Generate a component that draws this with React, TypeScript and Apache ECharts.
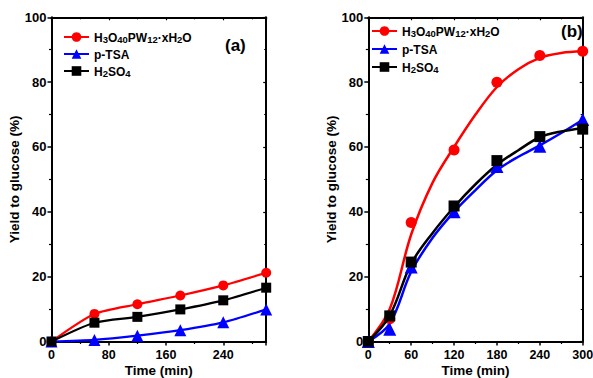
import React, { useEffect, useRef } from "react";
import * as echarts from "echarts";

const seriesNames = ["H3O40PW12·xH2O", "p-TSA", "H2SO4"];
const seriesColors = ["#ff0000", "#0000ff", "#000000"];
const seriesSymbols = ["circle", "triangle", "rect"];

// Panel (a) measurements
const aRed = [[0, 0], [60, 8.5], [120, 11.5], [180, 14.2], [240, 17.3], [300, 21.2]];
const aBlue = [[0, 0], [60, 0.5], [120, 1.8], [180, 3.5], [240, 5.9], [300, 9.9]];
const aBlack = [[0, 0], [60, 5.8], [120, 7.6], [180, 9.9], [240, 12.7], [300, 16.6]];

// Panel (b) measurements
const bRed = [[0, 0], [30, 7], [60, 36.7], [120, 59.1], [180, 80], [240, 88.2], [300, 89.5]];
const bBlue = [[0, 0], [30, 3.8], [60, 23], [120, 40], [180, 54], [240, 60.2], [300, 68.5]];
const bBlack = [[0, 0], [30, 7.9], [60, 24.5], [120, 41.8], [180, 55.8], [240, 63.2], [300, 65.5]];

// Panel (b) fitted curves
const bRedFit = [[0, 0], [30, 10], [60, 33], [90, 49], [120, 60], [150, 70], [180, 78.5], [210, 84], [240, 87.5], [270, 89], [300, 89.5]];
const bBlueFit = [[0, 0], [30, 5.5], [60, 21.5], [90, 32], [120, 40], [150, 46.7], [180, 52.8], [210, 57], [240, 60.5], [270, 64.3], [300, 68.4]];
const bBlackFit = [[0, 0], [30, 8], [60, 24], [90, 33.5], [120, 41.5], [150, 48.5], [180, 54.5], [210, 59], [240, 63], [270, 64.8], [300, 65.8]];

const FONT = "Arial, 'Liberation Sans', sans-serif";

const legendRich = {
  n: { fontSize: 12, fontWeight: "bold", fontFamily: FONT, color: "#000", lineHeight: 14, verticalAlign: "bottom" },
  s: { fontSize: 9.5, fontWeight: "bold", fontFamily: FONT, color: "#000", lineHeight: 9, verticalAlign: "bottom" },
};

function legendFormatter(name: string) {
  if (name === seriesNames[0]) return "{n|H}{s|3}{n|O}{s|40}{n|PW}{s|12}{n|·xH}{s|2}{n|O}";
  if (name === seriesNames[2]) return "{n|H}{s|2}{n|SO}{s|4}";
  return "{n|" + name + "}";
}

function makeAxes(grid: number, xInterval: number, showMaxX: boolean) {
  const line = { show: true, onZero: false, lineStyle: { color: "#000", width: 2 } };
  const lbl = { color: "#000", fontSize: 13, fontWeight: "bold", fontFamily: FONT };
  const xs = [
    {
      gridIndex: grid, type: "value", min: 0, max: 300, interval: xInterval, position: "bottom",
      axisLine: line,
      axisTick: { show: true, inside: false, length: 4, lineStyle: { width: 1.5, color: "#000" } },
      minorTick: { show: true, splitNumber: 2, length: 2.5, lineStyle: { width: 1.2, color: "#000" } },
      axisLabel: { ...lbl, fontSize: 12.5, lineHeight: 12, margin: 7, showMaxLabel: showMaxX },
      splitLine: { show: false },
      name: "Time (min)", nameLocation: "middle", nameGap: 22, nameMoveOverlap: false,
      nameTextStyle: { color: "#000", fontSize: 13.5, fontWeight: "bold", fontFamily: FONT, lineHeight: 13 },
    },
    {
      gridIndex: grid, type: "value", min: 0, max: 300, interval: xInterval, position: "top",
      axisLine: line,
      axisTick: { show: true, inside: true, length: 3, lineStyle: { width: 1.2, color: "#000" } },
      minorTick: { show: true, splitNumber: 2, length: 2, lineStyle: { width: 1, color: "#000" } },
      axisLabel: { show: false },
      splitLine: { show: false },
    },
  ];
  const ys = [
    {
      gridIndex: grid, type: "value", min: 0, max: 100, interval: 20, position: "left",
      axisLine: line,
      axisTick: { show: true, inside: false, length: 4, lineStyle: { width: 1.5, color: "#000" } },
      minorTick: { show: true, splitNumber: 2, length: 2.5, lineStyle: { width: 1.2, color: "#000" } },
      axisLabel: { ...lbl, margin: 5 },
      splitLine: { show: false },
      name: "Yield to glucose (%)", nameLocation: "middle", nameGap: 30, nameMoveOverlap: false,
      nameTextStyle: { color: "#000", fontSize: 13.5, fontWeight: "bold", fontFamily: FONT },
    },
    {
      gridIndex: grid, type: "value", min: 0, max: 100, interval: 20, position: "right",
      axisLine: line,
      axisTick: { show: true, inside: true, length: 3, lineStyle: { width: 1.2, color: "#000" } },
      minorTick: { show: true, splitNumber: 2, length: 2, lineStyle: { width: 1, color: "#000" } },
      axisLabel: { show: false },
      splitLine: { show: false },
    },
  ];
  return { xs, ys };
}

export default function App() {
  const ref = useRef<HTMLDivElement>(null);
  useEffect(() => {
    if (!ref.current) return;
    const chart = echarts.init(ref.current, null, { renderer: "svg" });
    const A = makeAxes(0, 80, false);
    const B = makeAxes(1, 60, true);
    const aData = [aRed, aBlue, aBlack];
    const bData = [bRed, bBlue, bBlack];
    const bFit = [bRedFit, bBlueFit, bBlackFit];
    const sizes = [10, 12, 10];

    const series: any[] = [];
    for (let i = 0; i < 3; i++) {
      series.push({
        type: "line", name: seriesNames[i], xAxisIndex: 0, yAxisIndex: 0,
        data: aData[i], smooth: 0.25, clip: false,
        symbol: seriesSymbols[i], symbolSize: sizes[i], showSymbol: true,
        lineStyle: { color: seriesColors[i], width: 2.2 },
        itemStyle: { color: seriesColors[i] },
        z: 2 + i,
      });
    }
    for (let i = 0; i < 3; i++) {
      series.push({
        type: "line", name: seriesNames[i], xAxisIndex: 2, yAxisIndex: 2,
        data: bFit[i], smooth: 0.35, clip: false,
        symbol: seriesSymbols[i], showSymbol: false,
        lineStyle: { color: seriesColors[i], width: 2.5 },
        itemStyle: { color: seriesColors[i] },
        z: 2 + i,
      });
      series.push({
        type: "scatter", name: seriesNames[i], xAxisIndex: 2, yAxisIndex: 2,
        data: bData[i], clip: false,
        symbol: seriesSymbols[i], symbolSize: sizes[i] + 1,
        itemStyle: { color: seriesColors[i], opacity: 1 },
        z: 3 + i,
      });
    }

    chart.setOption({
      animation: false,
      backgroundColor: "#fff",
      grid: [
        { left: 51.5, top: 17.3, width: 214.7, height: 324.2, outerBoundsMode: "none", containLabel: false },
        { left: 368.3, top: 17.3, width: 214.4, height: 324.2, outerBoundsMode: "none", containLabel: false },
      ],
      xAxis: [...A.xs, ...B.xs],
      yAxis: [...A.ys, ...B.ys],
      legend: [
        {
          orient: "vertical", left: 63, top: 32, itemGap: 5, itemWidth: 25, itemHeight: 12,
          selectedMode: false, data: seriesNames, formatter: legendFormatter,
          textStyle: { rich: legendRich }, padding: 0,
        },
        {
          orient: "vertical", left: 371, top: 26, itemGap: 6, itemWidth: 25, itemHeight: 12,
          selectedMode: false, data: seriesNames, formatter: legendFormatter,
          textStyle: { rich: legendRich }, padding: 0,
        },
      ],
      graphic: [
        { type: "text", left: 225, top: 37, style: { text: "(a)", fontSize: 17, fontWeight: "bold", fontFamily: FONT, fill: "#000" } },
        { type: "text", left: 561, top: 23, style: { text: "(b)", fontSize: 17, fontWeight: "bold", fontFamily: FONT, fill: "#000" } },
      ],
      series,
    });
    return () => chart.dispose();
  }, []);
  return <div ref={ref} style={{ position: "fixed", left: 0, top: 0, width: 593, height: 378 }} />;
}
